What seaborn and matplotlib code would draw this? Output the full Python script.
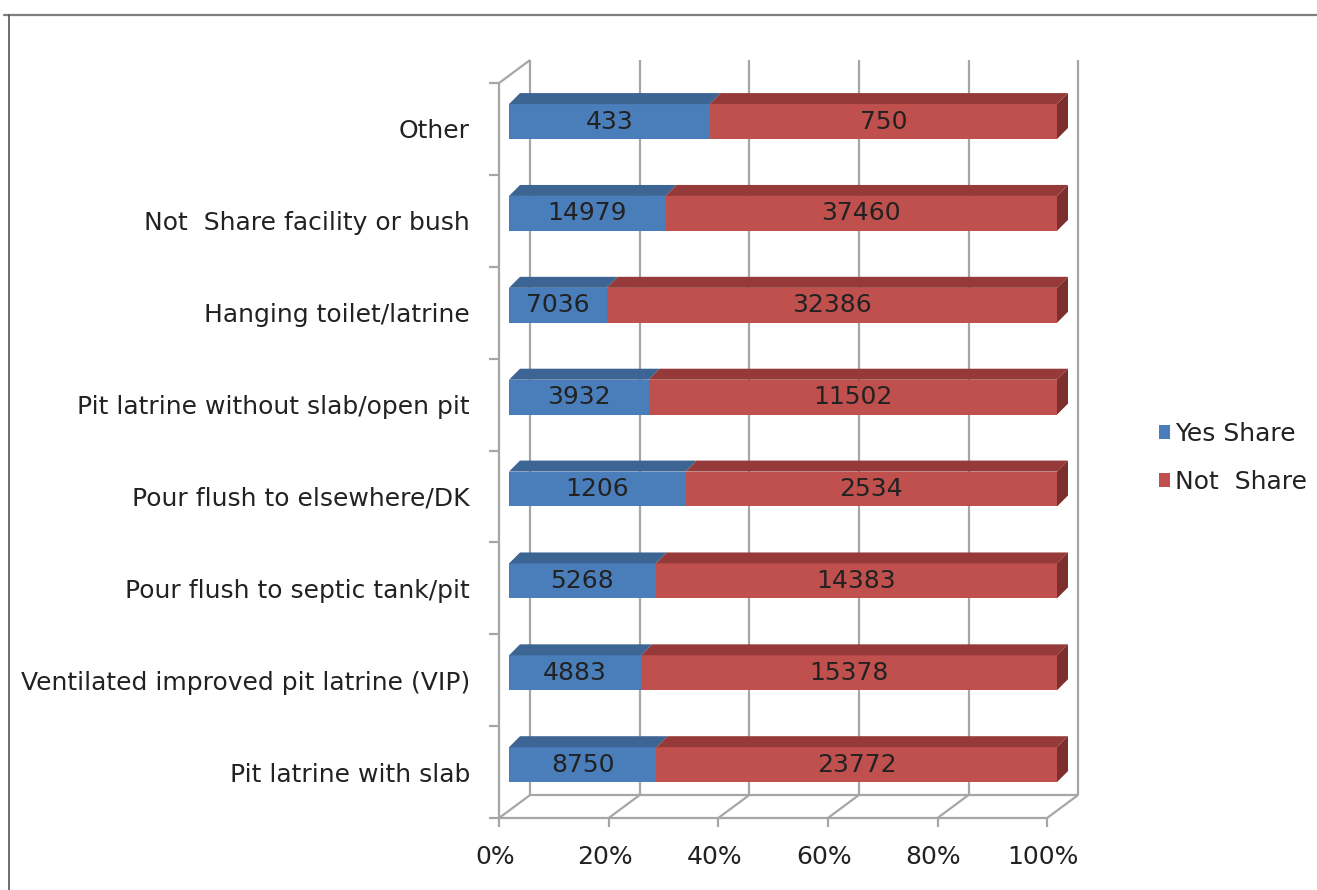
import numpy as np
import pandas as pd
import matplotlib
matplotlib.use("Agg")
import matplotlib.pyplot as plt
from matplotlib.patches import Polygon
from matplotlib.lines import Line2D
from matplotlib.transforms import ScaledTranslation
import seaborn as sns

# ---- data -------------------------------------------------------------
categories = [
    "Other",
    "Not  Share facility or bush",
    "Hanging toilet/latrine",
    "Pit latrine without slab/open pit",
    "Pour flush to elsewhere/DK",
    "Pour flush to septic tank/pit",
    "Ventilated improved pit latrine (VIP)",
    "Pit latrine with slab",
]
yes_share = [433, 14979, 7036, 3932, 1206, 5268, 4883, 8750]
not_share = [750, 37460, 32386, 11502, 2534, 14383, 15378, 23772]
series_names = ["Yes Share", "Not  Share"]
pct_ticks = [0, 20, 40, 60, 80, 100]

# ---- style ------------------------------------------------------------
BLUE, BLUE_TOP = "#4a7ebb", "#3d6594"
RED, RED_TOP, RED_SIDE = "#c0504d", "#953a38", "#7c2f2d"
GRID = "#a6a6a6"
TXT = "#222222"
FONT = 18

sns.set_style("white")
plt.rcParams["font.family"] = ["DejaVu Sans"]

W, H, DPI = 1317, 890, 100
fig = plt.figure(figsize=(W / DPI, H / DPI), dpi=DPI)

# axes spans the plane of the bars' front faces (pixel box)
ax_l, ax_r, ax_t, ax_b = 509.0, 1057.0, 75.6, 810.6
ax = fig.add_axes([ax_l / W, 1 - ax_b / H, (ax_r - ax_l) / W, (ax_b - ax_t) / H])
n = len(categories)
px2x = 100.0 / (ax_r - ax_l)
px2y = n / (ax_b - ax_t)


def off(px, py):
    """pixel offset (py downward) -> data offset"""
    return px * px2x, py * px2y


df = pd.DataFrame({"category": categories, "yes": yes_share, "no": not_share})
df["total"] = df["yes"] + df["no"]
df["yes_pct"] = 100 * df["yes"] / df["total"]
df["all_pct"] = 100 * (df["yes"] + df["no"]) / df["total"]

BAR_H = 0.38
sns.barplot(data=df, x="all_pct", y="category", orient="h", color=RED,
            saturation=1, width=BAR_H, errorbar=None, label=series_names[1],
            edgecolor="none", linewidth=0, ax=ax, zorder=3)
sns.barplot(data=df, x="yes_pct", y="category", orient="h", color=BLUE,
            saturation=1, width=BAR_H, errorbar=None, label=series_names[0],
            edgecolor="none", linewidth=0, ax=ax, zorder=3)
if ax.get_legend() is not None:
    ax.get_legend().remove()

ax.set_xlim(0, 100)
ax.set_ylim(n - 0.5, -0.5)
ax.set_xlabel("")
ax.set_ylabel("")
for s in ax.spines.values():
    s.set_visible(False)
ax.patch.set_alpha(0)

# ---- 3-D box: walls, floor, gridlines ---------------------------------
fdx, fdy = off(-9.9, 7.4)      # front plane relative to bars
bdx, bdy = off(21.1, -15.6)    # back plane relative to bars
y_top, y_bot = -0.5, n - 0.5


def seg(x0, y0, x1, y1, **kw):
    ax.add_line(Line2D([x0, x1], [y0, y1], color=GRID, lw=1.6,
                       solid_capstyle="butt", clip_on=False, zorder=1, **kw))


for p in pct_ticks:
    # back wall gridline
    seg(p + bdx, y_top + bdy, p + bdx, y_bot + bdy)
    # floor diagonal
    seg(p + fdx, y_bot + fdy, p + bdx, y_bot + bdy)
    # tick below the floor front edge
    tdx, tdy = off(0, 9)
    seg(p + fdx, y_bot + fdy, p + fdx, y_bot + fdy + tdy)
# floor edges
seg(0 + fdx, y_bot + fdy, 100 + fdx, y_bot + fdy)
seg(0 + bdx, y_bot + bdy, 100 + bdx, y_bot + bdy)
# side wall
seg(0 + fdx, y_top + fdy, 0 + fdx, y_bot + fdy)
seg(0 + fdx, y_top + fdy, 0 + bdx, y_top + bdy)
ldx, _ = off(-10, 0)
for k in range(n + 1):
    yy = k - 0.5 + fdy
    seg(0 + fdx, yy, 0 + fdx + ldx, yy)

# ---- bar tops, end faces and value labels -----------------------------
ddx, ddy = off(11, -11)
for i in range(n):
    yt, yb = i - BAR_H / 2, i + BAR_H / 2
    segs = [(0, df["yes_pct"][i], BLUE_TOP, yes_share[i]),
            (df["yes_pct"][i], df["all_pct"][i], RED_TOP, not_share[i])]
    for x0, x1, c, v in segs:
        ax.add_patch(Polygon([(x0, yt), (x1, yt), (x1 + ddx, yt + ddy),
                              (x0 + ddx, yt + ddy)], closed=True, fc=c,
                             ec="none", clip_on=False, zorder=4))
        ax.text((x0 + x1) / 2, i, f"{v}", ha="center", va="center",
                fontsize=FONT, color=TXT, zorder=6)
    xe = df["all_pct"][i]
    ax.add_patch(Polygon([(xe, yt), (xe + ddx, yt + ddy), (xe + ddx, yb + ddy),
                          (xe, yb)], closed=True, fc=RED_SIDE, ec="none",
                         clip_on=False, zorder=4))

# ---- tick labels ------------------------------------------------------
ax.set_yticks(range(n))
ax.set_yticklabels(categories)
ax.set_xticks(pct_ticks)
ax.set_xticklabels([f"{p}%" for p in pct_ticks])
ax.tick_params(axis="y", length=0, pad=28, labelsize=FONT, labelcolor=TXT)
ax.tick_params(axis="x", length=0, pad=25, labelsize=FONT, labelcolor=TXT)
for lab in ax.get_yticklabels():
    lab.set_transform(lab.get_transform() +
                      ScaledTranslation(0, -7.4 / DPI, fig.dpi_scale_trans))
for lab in ax.get_xticklabels():
    lab.set_transform(lab.get_transform() +
                      ScaledTranslation(-14 / DPI, 0, fig.dpi_scale_trans))

# ---- legend -------------------------------------------------------------
handles, labels = ax.get_legend_handles_labels()
order = [labels.index(s) for s in series_names]
fig.legend([handles[j] for j in order], [labels[j] for j in order],
           loc="center left", bbox_to_anchor=(1149 / W, 1 - 458 / H),
           frameon=False, fontsize=FONT, handlelength=0.45, handleheight=0.45,
           handletextpad=0.2, labelspacing=0.95, borderaxespad=0,
           labelcolor=TXT)

# ---- outer frame --------------------------------------------------------
fig.add_artist(Line2D([4 / W, 1], [1 - 15 / H, 1 - 15 / H], color="#7f7f7f",
                      lw=1.6, transform=fig.transFigure))
fig.add_artist(Line2D([9 / W, 9 / W], [1 - 15 / H, 0], color="#555555",
                      lw=1.2, transform=fig.transFigure))

fig.savefig("out.png", dpi=DPI)
